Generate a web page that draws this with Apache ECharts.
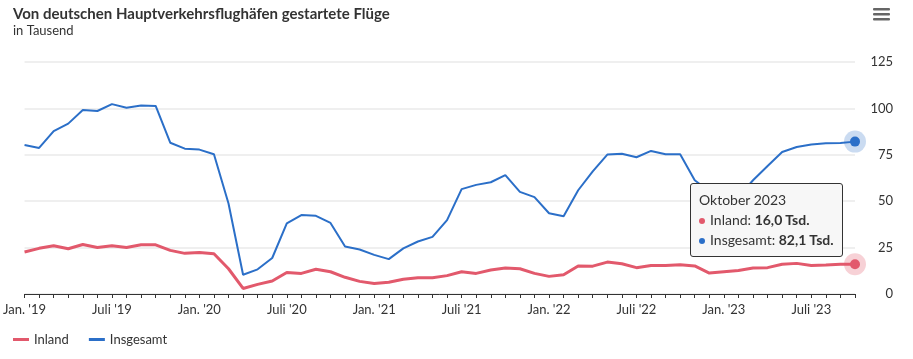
<!DOCTYPE html>
<html>
<head>
<meta charset="utf-8">
<script src="https://cdn.jsdelivr.net/npm/echarts@6/dist/echarts.min.js"></script>
<style>
html,body{margin:0;padding:0;background:#fff;}
#chart{width:913px;height:359px;}
</style>
</head>
<body>
<div id="chart"></div>
<script>
const monthNames = ['Januar','Februar','März','April','Mai','Juni','Juli','August','September','Oktober','November','Dezember'];
const shortNames = ['Jan.','Feb.','März','Apr.','Mai','Juni','Juli','Aug.','Sep.','Okt.','Nov.','Dez.'];
const years = [2019, 2020, 2021, 2022, 2023];
const categories = [];
years.forEach(y => { for (let m = 0; m < 12; m++) { if (y === 2023 && m > 9) break; categories.push(y + '-' + (m + 1)); } });

const inland = [
  22.6, 24.6, 26.0, 24.4, 26.7, 25.1, 26.0, 25.1, 26.5, 26.5, 23.5, 21.9,
  22.4, 21.7, 13.6, 3.0, 5.2, 7.0, 11.6, 11.1, 13.3, 12.0, 9.0, 6.8,
  5.6, 6.3, 7.9, 8.8, 8.8, 9.9, 12.0, 11.1, 12.9, 14.0, 13.6, 11.1,
  9.5, 10.4, 15.1, 15.0, 17.2, 16.3, 14.2, 15.4, 15.4, 15.8, 15.1, 11.3,
  12.0, 12.7, 14.0, 14.2, 16.0, 16.5, 15.4, 15.6, 16.0, 16.0
];
const insgesamt = [
  80.3, 78.7, 87.8, 91.8, 99.1, 98.6, 102.3, 100.3, 101.6, 101.3, 81.5, 78.3,
  77.8, 75.3, 48.8, 10.4, 13.3, 19.4, 38.0, 42.5, 42.1, 38.3, 25.6, 24.0,
  21.1, 18.8, 24.6, 28.3, 30.8, 39.8, 56.5, 58.8, 60.2, 64.0, 55.0, 52.2,
  43.5, 41.9, 55.9, 66.1, 75.1, 75.6, 73.7, 77.1, 75.3, 75.3, 61.3, 55.4,
  53.8, 52.3, 61.3, 69.0, 76.5, 79.2, 80.6, 81.2, 81.4, 82.1
];
const yTicks = [0, 25, 50, 75, 100, 125];

const RED = '#e2596c';
const BLUE = '#2b6fc8';
const FONT = 'Lato, "Noto Sans", sans-serif';
const lastIdx = categories.length - 1;

function withLast(arr, halo) {
  return arr.map((v, i) => i === lastIdx ? {
    value: v, symbol: 'circle', symbolSize: 20,
    itemStyle: { color: halo, borderWidth: 0 }
  } : v);
}
function dot(arr, color) {
  return {
    symbol: 'circle', symbolSize: 10, silent: true,
    label: { show: false },
    itemStyle: { color: color, borderWidth: 0 },
    data: [{ coord: [categories[lastIdx], arr[lastIdx]] }]
  };
}

const chart = echarts.init(document.getElementById('chart'), null, { renderer: 'canvas' });
chart.setOption({
  animation: false,
  backgroundColor: '#ffffff',
  textStyle: { fontFamily: FONT },
  title: {
    text: 'Von deutschen Hauptverkehrsflughäfen gestartete Flüge',
    subtext: 'in Tausend',
    left: 8, top: 2,
    itemGap: 2,
    textStyle: { fontFamily: FONT, fontSize: 15, fontWeight: 'bold', color: '#333333' },
    subtextStyle: { fontFamily: FONT, fontSize: 13, color: '#333333' }
  },
  graphic: [
    { type: 'rect', shape: { x: 873, y: 8, width: 17, height: 2.6, r: 1 }, style: { fill: '#666666' } },
    { type: 'rect', shape: { x: 873, y: 13, width: 17, height: 2.6, r: 1 }, style: { fill: '#666666' } },
    { type: 'rect', shape: { x: 873, y: 18, width: 17, height: 2.6, r: 1 }, style: { fill: '#666666' } }
  ],
  legend: {
    left: 8, bottom: 8,
    itemWidth: 16, itemHeight: 3, itemGap: 20,
    icon: 'rect',
    textStyle: { fontFamily: FONT, fontSize: 13, color: '#333333' },
    data: ['Inland', 'Insgesamt']
  },
  grid: { left: 22, right: 58, top: 62, bottom: 65 },
  tooltip: {
    trigger: 'axis',
    alwaysShowContent: true,
    axisPointer: { type: 'none' },
    position: [690, 183],
    backgroundColor: '#f7f7f7',
    borderColor: '#333333',
    borderWidth: 1,
    padding: [6, 8, 6, 8],
    extraCssText: 'border-radius:3px;box-shadow:none;',
    textStyle: { fontFamily: FONT, fontSize: 14, color: '#333333' },
    formatter: function (params) {
      const idx = params[0].dataIndex;
      const parts = categories[idx].split('-');
      let s = '<div style="line-height:20px">' + monthNames[+parts[1] - 1] + ' ' + parts[0] + '</div>';
      params.forEach(p => {
        const v = (typeof p.value === 'object' ? p.value.value : p.value);
        const c = p.seriesName === 'Inland' ? RED : BLUE;
        s += '<div style="line-height:20px"><span style="display:inline-block;width:6px;height:6px;border-radius:3px;background:' + c + ';margin-right:5px;vertical-align:middle"></span>' +
          p.seriesName + ': <b>' + v.toFixed(1).replace('.', ',') + ' Tsd.</b></div>';
      });
      return s;
    }
  },
  xAxis: {
    type: 'category',
    data: categories,
    boundaryGap: false,
    axisLine: { lineStyle: { color: '#333333', width: 1 } },
    axisTick: { show: true, interval: 0, length: 4, lineStyle: { color: '#333333' } },
    axisLabel: {
      interval: function (i) { return i % 6 === 0; },
      margin: 9,
      fontFamily: FONT, fontSize: 13, color: '#333333',
      formatter: function (v) {
        const p = v.split('-');
        return shortNames[+p[1] - 1] + " '" + p[0].slice(2);
      }
    },
    splitLine: { show: false }
  },
  yAxis: {
    type: 'value',
    position: 'right',
    min: yTicks[0], max: yTicks[yTicks.length - 1], interval: 25,
    axisLine: { show: false },
    axisTick: { show: false },
    axisLabel: { align: 'right', margin: 38, fontFamily: FONT, fontSize: 13, color: '#333333' },
    splitLine: { lineStyle: { color: '#efefef', width: 2 } }
  },
  series: [
    {
      name: 'Inland', type: 'line', data: withLast(inland, 'rgba(226,89,108,0.28)'),
      color: RED, showSymbol: false, symbol: 'none',
      lineStyle: { width: 3, color: RED },
      emphasis: { disabled: true },
      markPoint: dot(inland, RED),
      z: 3
    },
    {
      name: 'Insgesamt', type: 'line', data: withLast(insgesamt, 'rgba(43,111,200,0.25)'),
      color: BLUE, showSymbol: false, symbol: 'none',
      lineStyle: { width: 2, color: BLUE },
      emphasis: { disabled: true },
      markPoint: dot(insgesamt, BLUE),
      z: 2
    }
  ]
});
chart.dispatchAction({ type: 'showTip', seriesIndex: 0, dataIndex: lastIdx });
</script>
</body>
</html>
